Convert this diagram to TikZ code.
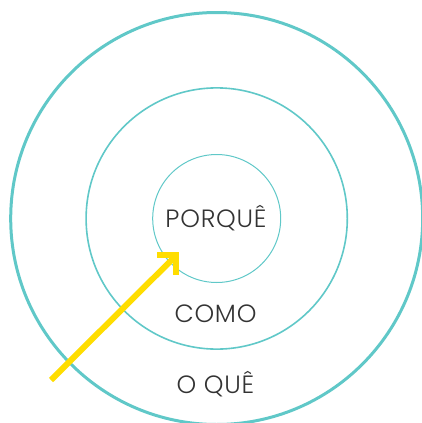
\documentclass[tikz,border=0pt]{standalone}
\usepackage{fontspec}
\setmainfont{Poppins}[UprightFont=* Light,LetterSpace=3]
\definecolor{ringteal}{RGB}{96,200,200}
\definecolor{arrowyellow}{RGB}{255,221,0}
\definecolor{labelgray}{RGB}{51,51,51}
\begin{document}
\begin{tikzpicture}[x=1pt,y=-1pt,
  ring/.style={draw=ringteal},
  ringlabel/.style={text=labelgray,font=\fontsize{25}{25}\selectfont,inner sep=0pt,anchor=base},
  yarrow/.style={draw=arrowyellow,line width=6pt,line join=miter}]
\useasboundingbox (0,0) rectangle (422,423);
\coordinate (c) at (216.7,218.5);
\draw[ring,line width=3pt] (c) circle[radius=206];
\draw[ring,line width=1.6pt] (c) circle[radius=130.6];
\draw[ring,line width=1pt] (c) circle[radius=64];
\node[ringlabel] (why) at (216,227.5) {PORQUÊ};
\node[ringlabel] (how) at (215.5,322) {COMO};
\node[ringlabel] (what) at (215.5,393) {O QUÊ};
\coordinate (tail) at (51,380);
\coordinate (tip) at (176.3,255.3);
\coordinate (barbA) at (157.3,255.3);
\coordinate (barbB) at (176.3,275);
\draw[yarrow] (tail) -- (tip);
\draw[yarrow] (barbA) -- (tip) -- (barbB);
\end{tikzpicture}
\end{document}
